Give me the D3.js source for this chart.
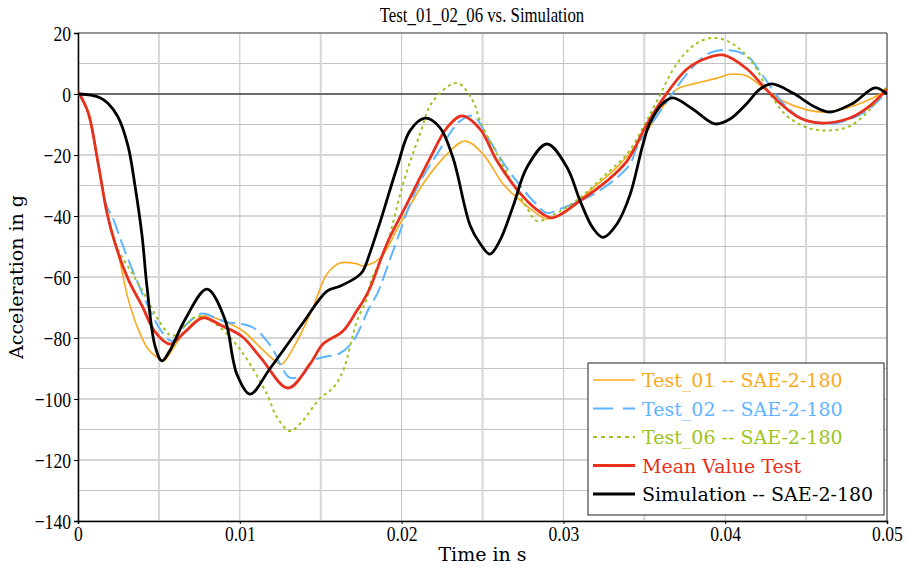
<!DOCTYPE html>
<html><head><meta charset="utf-8">
<script src="https://cdn.jsdelivr.net/npm/d3@7"></script>
<style>html,body{margin:0;padding:0;background:#fff;}svg{display:block;}</style>
</head><body>
<script>
// time in ms, acceleration in g
const test01 = [[0,0.5],[0.62,-6],[1.24,-22.6],[1.85,-40],[2.47,-52],[3.09,-67],[3.71,-77],[4.33,-83.6],[4.94,-86.6],[5.3,-87.5],[5.69,-85],[6.49,-78.7],[7.73,-72.8],[8.96,-74.4],[10.2,-77.7],[11.25,-83],[12.3,-88],[12.61,-88.5],[13.54,-81],[14.52,-70],[15.39,-59],[16.19,-55.4],[17.24,-55.7],[17.61,-56.4],[18.67,-53.8],[19.9,-42.6],[21.32,-29.5],[22.81,-19.7],[23.92,-15.4],[25.03,-19.7],[26.27,-29.5],[27.13,-34],[28.37,-39.3],[28.99,-41],[30.22,-38.4],[31.83,-30.8],[33.5,-23],[35.17,-12],[35.97,-5.6],[36.4,-2.3],[37.02,1.6],[38.26,3.6],[39.49,5.2],[40.3,6.5],[41.35,5.9],[42.34,2],[43.57,-2.3],[45.06,-5.2],[46.29,-5.9],[47.9,-3.9],[49.13,-1.3],[50,1.3]];
const test02 = [[0,0.5],[0.62,-6],[1.24,-22.6],[1.79,-37],[2.1,-40],[2.72,-49],[3.52,-59.7],[4.33,-69.5],[5.19,-78],[5.81,-81],[6.61,-76],[7.66,-72],[8.65,-73.8],[9.39,-75],[10.14,-75.4],[10.9,-76.8],[11.68,-81],[12.18,-85],[12.48,-88.5],[13.1,-93],[13.91,-92],[14.52,-87.5],[15.39,-86],[16.19,-85],[17,-81],[18.05,-69.5],[18.48,-65.6],[19.47,-51.5],[20.95,-30.8],[22.19,-19.7],[23.61,-8.9],[24.41,-7.2],[25.46,-15.4],[26.51,-24.3],[27.32,-30],[28.12,-35],[28.99,-39],[29.79,-37.7],[31.46,-34],[33.07,-28.5],[34.12,-23],[34.5,-18],[35.17,-12],[36.4,-2.5],[37.64,6.6],[38.88,13],[40.11,14.4],[41.35,12.5],[42.34,5.9],[43.57,-3],[44.81,-8.2],[46.29,-9.8],[47.9,-7.9],[49.13,-3.9],[50,1]];
const test06 = [[0,0.5],[0.62,-6],[1.24,-22.6],[1.85,-40],[2.47,-51],[3.34,-58.7],[4.14,-66],[4.94,-73.8],[5.81,-79.3],[6.61,-76],[7.42,-72.8],[8.65,-76],[9.7,-81.6],[10.48,-87.3],[11.68,-98.4],[12.3,-106],[13.1,-110.5],[13.91,-107],[14.96,-99.7],[15.76,-96.4],[16.38,-90.8],[17.24,-74.4],[17.86,-67],[18.05,-62.3],[19.1,-49],[20.09,-29.5],[21.14,-13],[21.94,-2.3],[23.42,3.6],[24.41,-2.3],[24.85,-8.9],[25.9,-19.7],[26.88,-29.5],[27.75,-37.4],[28.37,-41.6],[29.6,-39],[31.03,-34],[32.69,-26],[33.93,-19.7],[34.92,-11],[35.78,-2.3],[37.02,10],[38.26,16.7],[39.37,18.4],[40.48,16.4],[41.72,10],[42.77,0],[43.82,-7.2],[45.06,-11],[46.29,-12],[47.71,-10.5],[48.95,-5],[50,2.6]];
const meanTest = [[0,0.8],[0.62,-6],[1.24,-22.6],[1.79,-39],[2.29,-49],[3.09,-60.6],[3.96,-69.5],[4.76,-78],[5.69,-82],[6.61,-78],[7.73,-73.4],[8.9,-76],[10.14,-79.5],[11.3,-86.5],[12.98,-96.4],[14.34,-88.5],[15.14,-82],[16.38,-77.7],[17.24,-71],[17.61,-68],[18.05,-63.6],[19.1,-49],[20.33,-36],[21.76,-21],[22.81,-11],[23.73,-7.2],[24.85,-11.5],[25.9,-22],[27.32,-32.5],[28.37,-38],[29.3,-40.6],[31.03,-35],[32.69,-28.5],[33.93,-22],[35.17,-9.8],[36.16,-1.5],[37.64,8.2],[38.88,11.8],[39.86,12.8],[41.35,8.2],[42.34,2.6],[43.39,-3],[44.62,-7.9],[45.86,-9.5],[47.53,-8.2],[48.76,-4.6],[50,1.6]];
const simulation = [[0,0],[0.8,-0.4],[1.36,-1.2],[1.85,-3],[2.47,-7.5],[3.09,-17],[3.52,-30],[3.96,-46.5],[4.26,-63],[4.76,-82.6],[5.19,-87.5],[5.69,-84],[6.61,-74],[7.97,-64],[9.09,-74],[9.58,-87],[9.83,-92],[10.63,-98.4],[11.87,-90],[13.91,-75],[15.39,-64.6],[16.19,-63],[17.24,-60],[17.61,-58],[18.05,-52],[18.67,-42],[19.72,-24],[20.52,-12],[21.45,-7.9],[22.37,-11],[23.18,-21],[24.23,-43],[24.85,-49],[25.46,-52.5],[26.08,-48],[26.88,-37],[27.75,-24],[28.99,-16.4],[30.22,-24],[31.03,-35],[31.83,-44],[32.45,-47],[33.31,-42.6],[34.12,-33],[34.92,-16.4],[35.35,-9.5],[36.16,-3],[36.77,-1.3],[38.01,-5],[39.37,-9.8],[40.3,-8.2],[41.35,-3],[42.15,1.6],[42.89,3.3],[44.19,0.3],[45.43,-3.9],[46.48,-5.9],[47.9,-3],[49.26,2],[50,0]];

const xTicks = [0, 0.01, 0.02, 0.03, 0.04, 0.05];
const yTicks = [20, 0, -20, -40, -60, -80, -100, -120, -140];
const seriesNames = ["Test_01 -- SAE-2-180","Test_02 -- SAE-2-180","Test_06 -- SAE-2-180","Mean Value Test","Simulation -- SAE-2-180"];
const seriesColors = ["#fba91c","#5fb5ff","#9cc420","#e8301c","#000000"];

const W = 907, H = 567;
const m = {left:78, right:20, top:33, bottom:46};
const svg = d3.select("body").append("svg").attr("width",W).attr("height",H);
const x = d3.scaleLinear().domain([0,0.05]).range([m.left, W-m.right]);
const y = d3.scaleLinear().domain([-140,20]).range([H-m.bottom, m.top]);

const serifC = "'Liberation Serif', 'Times New Roman', serif";
const serif = "'DejaVu Serif', serif";
const squeeze = 0.8;

// grid
const g = svg.append("g");
d3.range(-140, 21, 10).forEach(v => {
  const major = v % 20 === 0;
  g.append("line").attr("x1",x(0)).attr("x2",x(0.05)).attr("y1",y(v)).attr("y2",y(v))
    .attr("stroke", major ? "#d6d6d6" : "#c2c2c2").attr("stroke-width", major ? 2 : 1);
});
d3.range(0, 11).forEach(i => {
  const v = i*0.005;
  const major = i % 2 === 0;
  g.append("line").attr("x1",x(v)).attr("x2",x(v)).attr("y1",y(20)).attr("y2",y(-140))
    .attr("stroke", major ? "#c2c2c2" : "#d6d6d6").attr("stroke-width", major ? 1 : 2);
});

// frame
svg.append("line").attr("x1",x(0)).attr("x2",x(0.05)).attr("y1",y(20)).attr("y2",y(20)).attr("stroke","#555").attr("stroke-width",1.2);
svg.append("line").attr("x1",x(0.05)).attr("x2",x(0.05)).attr("y1",y(20)).attr("y2",y(-140)).attr("stroke","#555").attr("stroke-width",1.2);
// zero line
svg.append("line").attr("x1",x(0)).attr("x2",x(0.05)).attr("y1",y(0)).attr("y2",y(0)).attr("stroke","#000").attr("stroke-width",1);

// axes
const xAxis = svg.append("g").attr("transform",`translate(0,${y(-140)})`)
  .call(d3.axisBottom(x).tickValues(xTicks).tickFormat(d => d===0 ? "0" : String(+d.toFixed(2))).tickSize(3).tickPadding(2));
const yAxis = svg.append("g").attr("transform",`translate(${x(0)},0)`)
  .call(d3.axisLeft(y).tickValues(yTicks).tickSize(4).tickPadding(3));
[xAxis,yAxis].forEach(a => {
  a.attr("font-family", null).attr("font-size", null);
  a.select(".domain").attr("stroke","#000").attr("stroke-width",1.5);
  a.selectAll(".tick line").attr("stroke","#000");
  a.selectAll("text").style("font-family",serifC).style("font-size","22px").attr("fill","#000")
    .attr("transform",`scale(${squeeze},1)`);
});
yAxis.selectAll("text").attr("x", -7/squeeze).attr("dy","0.34em");
xAxis.selectAll("text").attr("y", 4);

// lines
const line = d3.line().x(d => x(d[0]/1000)).y(d => y(d[1])).curve(d3.curveCatmullRom.alpha(0.5));
svg.append("clipPath").attr("id","clip").append("rect")
  .attr("x",x(0)).attr("y",y(20)).attr("width",x(0.05)-x(0)).attr("height",y(-140)-y(20));
const plot = svg.append("g").attr("clip-path","url(#clip)");
const styles = [
  {data:test01, w:1.6, dash:null},
  {data:test02, w:2, dash:"16,6"},
  {data:test06, w:2, dash:"3,3.5"},
  {data:meanTest, w:2.8, dash:null},
  {data:simulation, w:2.8, dash:null}
];
styles.forEach((s,i) => {
  plot.append("path").attr("d", line(s.data)).attr("fill","none")
    .attr("stroke", seriesColors[i]).attr("stroke-width", s.w)
    .attr("stroke-dasharray", s.dash);
});

// title and labels
svg.append("text").attr("transform",`translate(482,22) scale(${squeeze},1)`).attr("text-anchor","middle")
  .style("font-family",serifC).style("font-size","21px").text("Test_01_02_06 vs. Simulation");
svg.append("text").attr("x",(x(0)+x(0.05))/2).attr("y",561).attr("text-anchor","middle")
  .style("font-family",serif).style("font-size","19px").text("Time in s");
svg.append("text").attr("transform",`translate(23,${(y(20)+y(-140))/2}) rotate(-90)`).attr("text-anchor","middle")
  .style("font-family",serif).style("font-size","19px").text("Acceleration in g");

// legend
const lg = svg.append("g").attr("transform","translate(588,363)");
lg.append("rect").attr("width",296).attr("height",152).attr("fill","#fff").attr("stroke","#444").attr("stroke-width",1.2);
seriesNames.forEach((n,i) => {
  const yy = 17 + i*28.5;
  lg.append("line").attr("x1",5).attr("x2",47).attr("y1",yy).attr("y2",yy)
    .attr("stroke",seriesColors[i]).attr("stroke-width",styles[i].w)
    .attr("stroke-dasharray", i===1 ? "20,10" : (i===2 ? "4,4" : null));
  lg.append("text").attr("x",54).attr("y",yy+7).style("font-family",serif).style("font-size","19px")
    .attr("fill",seriesColors[i]).text(n);
});
</script>
</body></html>
